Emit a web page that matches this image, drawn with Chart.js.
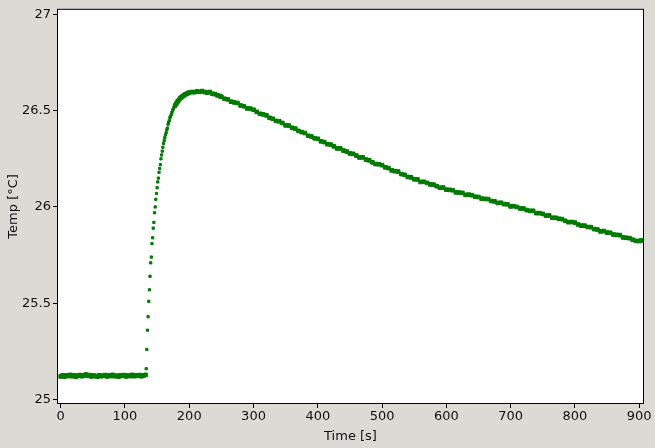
<!DOCTYPE html>
<html>
<head>
<meta charset="utf-8">
<title>Temperature vs time</title>
<script src="https://cdn.jsdelivr.net/npm/chart.js@4/dist/chart.umd.min.js"></script>
<style>
    html, body { margin: 0; padding: 0; background: #dcdad5; }
    canvas { display: block; }
</style>
</head>
<body>
<canvas id="tempChart" width="655" height="448"></canvas>
<script>
    // baseline before heating (s / °C)
    const baseTimes = [0, 3, 6, 9, 12, 15, 18, 21, 24, 27, 30, 33, 36, 39, 42, 45, 48, 51, 54, 57, 60, 63, 66, 69, 72, 75,
        78, 81, 84, 87, 90, 93, 96, 99, 102, 105, 108, 111, 114, 117, 120, 123, 126, 129, 132];
    const baseTemps = [25.120, 25.126, 25.119, 25.125, 25.122, 25.128, 25.121, 25.126, 25.118, 25.124, 25.127, 25.121, 25.125,
        25.130, 25.123, 25.127, 25.120, 25.125, 25.122, 25.119, 25.126, 25.121, 25.124, 25.127, 25.120, 25.125, 25.122,
        25.128, 25.121, 25.124, 25.119, 25.126, 25.123, 25.127, 25.120, 25.125, 25.122, 25.128, 25.121, 25.126, 25.123,
        25.127, 25.121, 25.125, 25.128];

    // heating (1 s samples, points visible one by one)
    const riseTimes = [133, 134, 135, 136, 137, 138, 139, 140, 141, 142, 143, 144, 145, 146, 147, 148, 149, 150, 151, 152,
        153, 154, 155, 156, 157, 158, 159, 160, 161, 162, 163, 164, 165, 166, 167, 168, 169, 170, 171, 172, 173, 174, 175, 176];
    const riseTemps = [25.16, 25.26, 25.36, 25.43, 25.51, 25.57, 25.64, 25.71, 25.74, 25.81, 25.84, 25.89, 25.92, 25.97,
        26.00, 26.04, 26.07, 26.10, 26.13, 26.15, 26.18, 26.20, 26.22, 26.25, 26.27, 26.29, 26.31, 26.33, 26.345, 26.36,
        26.375, 26.385, 26.40, 26.41, 26.43, 26.44, 26.45, 26.465, 26.47, 26.48, 26.49, 26.50, 26.508, 26.515];

    // peak and slow cooling
    const coolTimes = [178, 180, 182, 184, 186, 188, 190, 192, 194, 196, 198, 200,
        204, 208, 212, 216, 220, 224, 228, 232, 236, 240, 244, 248,
        250, 255, 260, 265, 270, 275, 280, 285, 290, 295, 300, 305, 310, 315, 320, 325, 330, 335, 340, 345,
        350, 355, 360, 365, 370, 375, 380, 385, 390, 395, 400, 405, 410, 415, 420, 425, 430, 435, 440, 445,
        450, 455, 460, 465, 470, 475, 480, 485, 490, 495, 500, 505, 510, 515, 520, 525, 530, 535, 540, 545,
        550, 555, 560, 565, 570, 575, 580, 585, 590, 595, 600, 605, 610, 615, 620, 625, 630, 635, 640, 645,
        650, 655, 660, 665, 670, 675, 680, 685, 690, 695, 700, 705, 710, 715, 720, 725, 730, 735, 740, 745,
        750, 755, 760, 765, 770, 775, 780, 785, 790, 795, 800, 805, 810, 815, 820, 825, 830, 835, 840, 845,
        850, 855, 860, 865, 870, 875, 880, 885, 890, 895, 900, 903];
    const coolTemps = [26.527, 26.537, 26.548, 26.556, 26.565, 26.570, 26.576, 26.580, 26.585, 26.588, 26.591, 26.594,
        26.597, 26.596, 26.601, 26.598, 26.602, 26.597, 26.594, 26.597, 26.588, 26.586, 26.580, 26.576,
        26.572, 26.562, 26.559, 26.547, 26.543, 26.540, 26.527, 26.523, 26.512, 26.511,
        26.505, 26.494, 26.484, 26.481, 26.476, 26.463, 26.458, 26.447, 26.445, 26.436,
        26.424, 26.423, 26.411, 26.407, 26.395, 26.389, 26.384, 26.370, 26.366, 26.357,
        26.354, 26.341, 26.337, 26.326, 26.324, 26.315, 26.304, 26.304, 26.293, 26.288,
        26.278, 26.276, 26.267, 26.257, 26.258, 26.246, 26.242, 26.232, 26.223, 26.222,
        26.217, 26.206, 26.202, 26.190, 26.186, 26.184, 26.171, 26.167, 26.156, 26.154,
        26.144, 26.143, 26.130, 26.131, 26.125, 26.117, 26.116, 26.108, 26.100, 26.101,
        26.090, 26.089, 26.087, 26.076, 26.075, 26.073, 26.063, 26.064, 26.061, 26.053,
        26.052, 26.043, 26.042, 26.041, 26.031, 26.029, 26.021, 26.022, 26.015, 26.014,
        26.003, 26.004, 26.000, 25.992, 25.992, 25.984, 25.980, 25.980, 25.968, 25.968,
        25.964, 25.955, 25.956, 25.944, 25.944, 25.939, 25.937, 25.928, 25.921, 25.922,
        25.919, 25.909, 25.903, 25.903, 25.896, 25.895, 25.885, 25.883, 25.873, 25.875,
        25.867, 25.866, 25.857, 25.855, 25.854, 25.842, 25.840, 25.838, 25.830, 25.824,
        25.823, 25.826];

    const xTicks = [0, 100, 200, 300, 400, 500, 600, 700, 800, 900];
    const yTicks = [25, 25.5, 26, 26.5, 27];

    const toPoints = (ts, vs) => ts.map((t, i) => ({ x: t, y: vs[i] }));

    const green = '#007a00';
    const textColor = '#111';
    const tickFont = { family: 'DejaVu Sans', size: 13 };

    function series(ts, vs, r) {
        return {
            data: toPoints(ts, vs),
            pointStyle: 'rect',
            pointRadius: r,
            pointBorderWidth: 1,
            backgroundColor: green,
            borderColor: green
        };
    }

    // grey page, white plot area, black frame
    const framePlugin = {
        id: 'frame',
        beforeDraw(chart) {
            const { ctx, chartArea: a } = chart;
            ctx.save();
            ctx.fillStyle = '#dcdad5';
            ctx.fillRect(0, 0, chart.width, chart.height);
            ctx.fillStyle = '#ffffff';
            ctx.fillRect(a.left, a.top, a.right - a.left, a.bottom - a.top);
            ctx.restore();
        },
        afterDraw(chart) {
            const { ctx, chartArea: a } = chart;
            ctx.save();
            ctx.strokeStyle = '#000';
            ctx.lineWidth = 1;
            ctx.strokeRect(a.left - 0.5, a.top - 0.5, a.right - a.left + 1, a.bottom - a.top + 1);
            ctx.restore();
        }
    };

    new Chart(document.getElementById('tempChart'), {
        type: 'scatter',
        data: {
            datasets: [
                series(baseTimes, baseTemps, 2.6),
                series(riseTimes, riseTemps, 1.6),
                series(coolTimes, coolTemps, 2.6)
            ]
        },
        options: {
            responsive: false,
            devicePixelRatio: 1,
            animation: false,
            layout: { padding: { left: 0, top: 8, right: 12, bottom: 0 } },
            plugins: { legend: { display: false }, tooltip: { enabled: false } },
            scales: {
                x: {
                    type: 'linear',
                    min: -4.2,
                    max: 906,
                    afterFit: s => { s.height = 45; },
                    afterBuildTicks: s => { s.ticks = xTicks.map(v => ({ value: v })); },
                    grid: { drawOnChartArea: false, drawTicks: true, tickLength: 5, color: '#000' },
                    border: { display: false },
                    ticks: { color: textColor, font: tickFont, padding: 1, maxRotation: 0, callback: v => String(v) },
                    title: { display: true, text: 'Time [s]', color: textColor, font: tickFont, padding: { top: 0, bottom: 4 } }
                },
                y: {
                    type: 'linear',
                    min: 24.982,
                    max: 27.024,
                    afterFit: s => { s.width = 58; },
                    afterBuildTicks: s => { s.ticks = yTicks.map(v => ({ value: v })); },
                    grid: { drawOnChartArea: false, drawTicks: true, tickLength: 5, color: '#000' },
                    border: { display: false },
                    ticks: { color: textColor, font: tickFont, padding: 2, callback: v => String(v) },
                    title: { display: true, text: 'Temp [°C]', color: textColor, font: tickFont, padding: { top: 6, bottom: 0 } }
                }
            }
        },
        plugins: [framePlugin]
    });
</script>
</body>
</html>
